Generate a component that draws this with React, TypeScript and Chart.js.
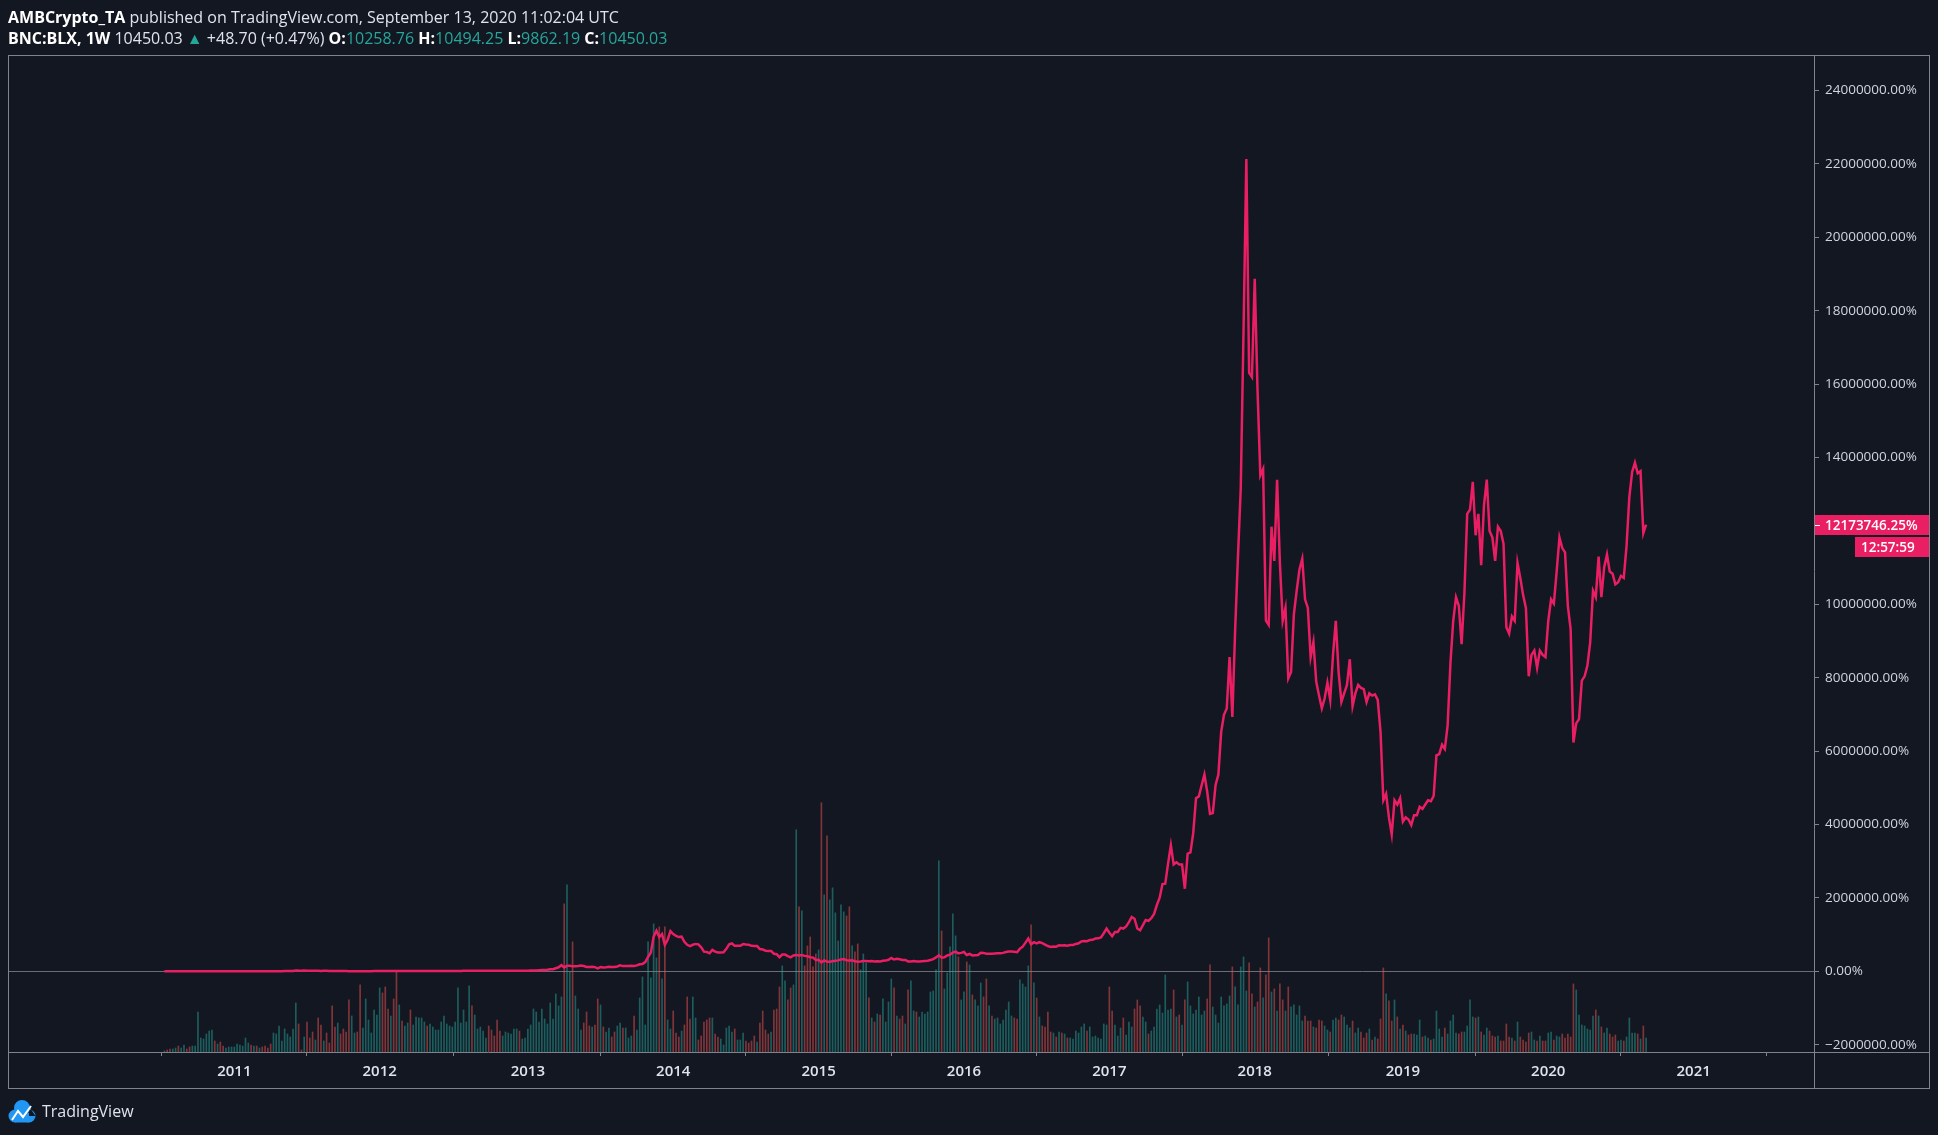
import React, { useEffect, useRef } from 'react';
import { Chart, registerables } from 'chart.js';

Chart.register(...registerables);

// ---- Weekly closes (USD) of BNC:BLX, one value per week, first bar = week of 12 Jul 2010 ----
const close2010 = [0.08584, 0.07, 0.06, 0.07, 0.07, 0.065, 0.065, 0.065, 0.063, 0.062, 0.062, 0.062, 0.07, 0.1, 0.1, 0.19, 0.24, 0.28, 0.25, 0.28, 0.21, 0.2, 0.23, 0.25, 0.3];
const close2011 = [0.32, 0.4, 0.41, 0.44, 0.72, 0.92, 0.9, 0.92, 0.89, 0.9, 0.87, 0.8, 0.78, 0.74, 0.87, 1.14, 1.62, 3.4, 5.8, 7.2, 7.3, 9, 18.5, 15.5, 15, 16.5, 14.8, 14.3, 13.8, 13.9, 10.8, 8.3, 11.1, 10, 8.2, 6.9, 5.4, 5.4, 5.1, 4.8, 4, 3.2, 3.2, 3.2, 3, 2.3, 2.5, 2.8, 3, 3.2, 3.9, 4.7];
const close2012 = [7, 6.8, 6.4, 5.6, 5.9, 5.7, 4.4, 5, 4.9, 4.9, 5.3, 4.7, 4.9, 4.9, 4.9, 5.1, 5.1, 5, 5, 5.1, 5.1, 5.2, 5.5, 6.1, 6.6, 6.7, 6.8, 7.5, 8.6, 8.8, 10.5, 11.5, 11.8, 10.3, 10.4, 10.6, 11.5, 12.2, 12.4, 12.1, 11.9, 11.8, 10.9, 10.6, 10.9, 11.4, 12.3, 12.5, 13.4, 13.4, 13.3, 13.5];
const close2013 = [13.5, 14.2, 15.6, 17.8, 20.5, 23.7, 27, 30, 34.5, 46, 47, 71, 93, 143, 90, 127, 128, 115, 117, 123, 133, 122, 100, 99, 108, 97, 70, 97, 90, 96, 105, 102, 100, 112, 138, 121, 125, 126, 131, 122, 137, 164, 172, 214, 334, 440, 810, 950, 800, 870, 620, 740];
const close2014 = [940, 870, 830, 800, 810, 690, 620, 590, 620, 640, 630, 560, 460, 450, 420, 500, 460, 440, 440, 445, 525, 630, 650, 595, 595, 595, 635, 625, 620, 595, 590, 590, 520, 510, 480, 475, 475, 410, 400, 330, 390, 390, 355, 325, 370, 380, 370, 380, 360, 350, 330, 320];
const close2015 = [265, 270, 210, 255, 225, 225, 235, 245, 255, 275, 285, 260, 250, 255, 235, 225, 230, 240, 240, 237, 240, 230, 235, 230, 245, 250, 270, 310, 275, 290, 280, 265, 265, 230, 230, 240, 230, 230, 235, 240, 245, 265, 285, 325, 375, 320, 325, 370, 390, 435, 460, 420];
const close2016 = [430, 450, 380, 405, 370, 375, 380, 435, 430, 412, 412, 410, 416, 420, 422, 430, 450, 460, 460, 455, 445, 530, 575, 670, 765, 630, 680, 650, 680, 660, 625, 590, 570, 580, 575, 610, 605, 610, 600, 615, 617, 640, 655, 700, 710, 705, 730, 735, 765, 770, 790, 890, 1000];
const close2017 = [900, 820, 920, 920, 1015, 1000, 1050, 1150, 1270, 1230, 1000, 960, 1080, 1200, 1180, 1240, 1340, 1550, 1720, 2040, 2050, 2520, 2950, 2500, 2550, 2500, 2500, 1930, 2750, 2780, 3230, 4050, 4090, 4350, 4600, 4200, 3680, 3700, 4360, 4600, 5600, 6000, 6150, 7350, 5950, 8000, 9700, 11300, 15000, 19000, 14000, 13900];
const close2018 = [16200, 13600, 11600, 11750, 8200, 8100, 10400, 9600, 11500, 9550, 8200, 8500, 6850, 7000, 8350, 8900, 9400, 9650, 8700, 8500, 7350, 7700, 6770, 6450, 6150, 6380, 6750, 6350, 7400, 8200, 7000, 6300, 6500, 6700, 7300, 6200, 6500, 6700, 6630, 6600, 6300, 6500, 6450, 6480, 6350, 5600, 4000, 4150, 3600, 3200, 4000, 3900, 4050];
const close2019 = [3500, 3600, 3550, 3420, 3650, 3650, 3850, 3800, 3900, 4000, 3980, 4100, 5050, 5080, 5300, 5200, 5750, 7200, 8200, 8750, 8550, 7650, 8850, 10700, 10800, 11450, 10200, 10700, 9500, 10900, 11500, 10300, 10150, 9600, 10400, 10300, 10000, 8050, 7900, 8300, 8200, 9550, 9200, 8800, 8500, 6900, 7400, 7500, 7100, 7500, 7400, 7350];
const close2020 = [8200, 8700, 8600, 9350, 10150, 9900, 9800, 8550, 8000, 5350, 5800, 5900, 6800, 6900, 7150, 7700, 8900, 8750, 9700, 8750, 9450, 9750, 9350, 9300, 9050, 9100, 9250, 9200, 9950, 11100, 11680, 11900, 11650, 11700, 10250, 10450.03];

// ---- Weekly volume (relative units) ----
const vol2010 = [1, 2, 3, 3, 4, 6, 4, 7, 3, 5, 6, 6, 40, 14, 13, 18, 21, 22, 11, 8, 10, 6, 4, 5, 5];
const vol2011 = [5, 8, 7, 6, 14, 9, 7, 6, 6, 4, 5, 6, 4, 8, 19, 18, 26, 11, 23, 18, 15, 23, 49, 28, 2, 15, 30, 14, 20, 12, 34, 27, 11, 19, 9, 46, 25, 29, 18, 23, 20, 52, 36, 19, 20, 67, 24, 53, 32, 19, 42, 37];
const vol2012 = [64, 59, 65, 43, 36, 53, 80, 47, 31, 26, 29, 42, 27, 35, 34, 34, 30, 26, 28, 25, 22, 22, 30, 36, 28, 26, 25, 30, 64, 29, 42, 30, 66, 46, 37, 23, 25, 21, 14, 26, 22, 16, 32, 21, 16, 20, 19, 18, 23, 23, 21, 13];
const vol2013 = [14, 23, 27, 43, 40, 30, 43, 33, 28, 49, 33, 58, 46, 55, 148, 167, 80, 110, 56, 43, 22, 29, 40, 26, 25, 27, 53, 47, 25, 20, 24, 15, 20, 26, 29, 24, 24, 14, 16, 36, 22, 54, 75, 27, 110, 74, 128, 94, 125, 73, 125, 32];
const vol2014 = [23, 41, 19, 15, 21, 27, 55, 33, 55, 34, 12, 16, 30, 32, 34, 34, 18, 15, 13, 7, 24, 26, 20, 23, 12, 12, 19, 11, 9, 11, 16, 10, 29, 41, 22, 18, 20, 42, 43, 65, 86, 71, 52, 64, 67, 222, 145, 141, 86, 106, 115, 85];
const vol2015 = [98, 102, 249, 157, 216, 152, 164, 139, 111, 147, 140, 136, 145, 106, 100, 108, 82, 98, 89, 54, 34, 30, 38, 37, 53, 30, 50, 73, 64, 36, 33, 36, 28, 62, 71, 41, 40, 35, 40, 38, 40, 60, 61, 82, 191, 121, 63, 79, 105, 138, 116, 95];
const vol2016 = [52, 60, 90, 87, 57, 52, 46, 69, 55, 73, 46, 36, 33, 34, 28, 32, 42, 50, 36, 34, 33, 72, 68, 65, 86, 127, 69, 54, 35, 26, 25, 40, 20, 19, 15, 20, 19, 18, 14, 14, 13, 21, 19, 25, 28, 21, 25, 15, 16, 14, 13, 28, 27];
const vol2017 = [65, 41, 27, 16, 24, 34, 17, 30, 25, 43, 52, 46, 35, 30, 18, 21, 25, 43, 47, 39, 77, 42, 43, 62, 35, 37, 27, 52, 70, 46, 38, 42, 55, 37, 41, 53, 87, 45, 37, 29, 55, 46, 48, 56, 85, 65, 47, 85, 95, 61, 89, 58];
const vol2018 = [45, 50, 84, 54, 77, 114, 60, 63, 41, 68, 52, 41, 65, 45, 47, 37, 46, 31, 36, 31, 31, 25, 24, 32, 31, 26, 22, 20, 32, 34, 32, 37, 35, 27, 24, 31, 19, 24, 20, 14, 19, 23, 12, 15, 13, 33, 84, 58, 51, 31, 52, 35, 23];
const vol2019 = [27, 21, 17, 18, 18, 17, 32, 15, 16, 14, 12, 13, 41, 23, 15, 24, 18, 31, 37, 19, 18, 20, 20, 26, 52, 35, 34, 35, 20, 17, 24, 21, 16, 15, 16, 11, 11, 28, 15, 14, 11, 30, 15, 12, 10, 19, 20, 12, 11, 16, 11, 11];
const vol2020 = [19, 20, 12, 16, 15, 18, 14, 18, 15, 68, 62, 37, 27, 26, 23, 22, 36, 42, 36, 25, 19, 24, 18, 15, 17, 11, 12, 11, 15, 34, 19, 19, 18, 13, 26, 14];

// ---- Axis ticks ----
const yearTickWeeks = [25, 77, 130, 182, 234, 286, 338, 390, 443, 495, 547];
const yearTickLabels = ['2011', '2012', '2013', '2014', '2015', '2016', '2017', '2018', '2019', '2020', '2021'];
const priceTickValues = [-2000000, 0, 2000000, 4000000, 6000000, 8000000, 10000000, 12000000, 14000000, 16000000, 18000000, 20000000, 22000000, 24000000];

// ---- Texts ----
const headerLine1 = [
  { t: 'AMBCrypto_TA', bold: true, c: '#ffffff' },
  { t: ' published on TradingView.com, September 13, 2020 11:02:04 UTC', bold: false, c: '#e0e3eb' },
];
const headerLine2 = [
  { t: 'BNC:BLX, 1W', bold: true, c: '#ffffff' },
  { t: ' 10450.03 ', bold: false, c: '#e0e3eb' },
  { t: '\u25B2', bold: false, c: '#26a69a' },
  { t: ' +48.70 (+0.47%) ', bold: false, c: '#e0e3eb' },
  { t: 'O:', bold: true, c: '#ffffff' },
  { t: '10258.76', bold: false, c: '#26a69a' },
  { t: ' H:', bold: true, c: '#ffffff' },
  { t: '10494.25', bold: false, c: '#26a69a' },
  { t: ' L:', bold: true, c: '#ffffff' },
  { t: '9862.19', bold: false, c: '#26a69a' },
  { t: ' C:', bold: true, c: '#ffffff' },
  { t: '10450.03', bold: false, c: '#26a69a' },
];
const lastValueLabel = '12173746.25%';
const countdownLabel = '12:57:59';
const brandLabel = 'TradingView';

// ---- Styling constants ----
const W = 1938;
const H = 1135;
const BG = '#131722';
const FRAME = '#80838d';
const ZERO = '#6a6d77';
const AXIS_TEXT = '#d1d4dc';
const PINK = '#e91e63';
const FONT = "'Open Sans', 'Noto Sans', sans-serif";
const X_MIN = -55.95;
const X_MAX = 590.05;
const Y_MIN = -2200000;
const Y_MAX = 24970000;

const closes = [
  ...close2010, ...close2011, ...close2012, ...close2013, ...close2014, ...close2015,
  ...close2016, ...close2017, ...close2018, ...close2019, ...close2020,
];
const volumes = [
  ...vol2010, ...vol2011, ...vol2012, ...vol2013, ...vol2014, ...vol2015,
  ...vol2016, ...vol2017, ...vol2018, ...vol2019, ...vol2020,
];
const base = closes[0];
const pctPoints = closes.map((c, i) => ({ x: i, y: (c / base - 1) * 100 }));
const volPoints = volumes.map((v, i) => ({ x: i, y: v }));
const volColors = closes.map((c, i) =>
  i === 0 || c >= closes[i - 1] ? 'rgba(38,166,154,0.5)' : 'rgba(239,83,80,0.5)'
);
const VOL_MAX = Math.max(...volumes) * 4;

const fmtPct = (v: number) => (v < 0 ? '\u2212' : '') + Math.abs(v).toFixed(2) + '%';

function drawSegments(ctx: CanvasRenderingContext2D, segs: { t: string; bold: boolean; c: string }[], x: number, y: number, size: number) {
  let cx = x;
  for (const s of segs) {
    ctx.font = `${s.bold ? '700' : '400'} ${size}px ${FONT}`;
    ctx.fillStyle = s.c;
    ctx.fillText(s.t, cx, y);
    cx += ctx.measureText(s.t).width;
  }
}

const decor = {
  id: 'tvDecor',
  beforeDraw(chart: any) {
    const { ctx, width, height } = chart;
    ctx.save();
    ctx.fillStyle = BG;
    ctx.fillRect(0, 0, width, height);
    ctx.restore();
  },
  beforeDatasetsDraw(chart: any) {
    const { ctx, chartArea: a, scales } = chart;
    const y0 = Math.round(scales.y.getPixelForValue(0)) + 0.5;
    ctx.save();
    ctx.strokeStyle = ZERO;
    ctx.lineWidth = 1;
    ctx.beginPath();
    ctx.moveTo(a.left, y0);
    ctx.lineTo(a.right, y0);
    ctx.stroke();
    ctx.restore();
  },
  afterDraw(chart: any) {
    const { ctx, chartArea: a, scales } = chart;
    ctx.save();
    // frame
    ctx.strokeStyle = FRAME;
    ctx.lineWidth = 1;
    const outerR = a.right + 116;
    const outerB = a.bottom + 36;
    ctx.strokeRect(a.left + 0.5, a.top + 0.5, outerR - a.left - 1, outerB - a.top);
    ctx.beginPath();
    ctx.moveTo(a.left, a.bottom + 0.5);
    ctx.lineTo(outerR, a.bottom + 0.5);
    ctx.moveTo(a.right + 0.5, a.top);
    ctx.lineTo(a.right + 0.5, outerB);
    ctx.stroke();

    // header
    ctx.textBaseline = 'middle';
    ctx.textAlign = 'left';
    drawSegments(ctx, headerLine1, 8, 18.5, 16);
    drawSegments(ctx, headerLine2, 8, 39.5, 16);

    // last value labels
    const last = pctPoints[pctPoints.length - 1].y;
    const yl = Math.round(scales.y.getPixelForValue(last));
    ctx.fillStyle = PINK;
    ctx.fillRect(a.right + 1, yl - 10, outerR - a.right - 2, 20);
    ctx.fillRect(1855, yl + 12, outerR - 1855 - 1, 20);
    ctx.strokeStyle = '#ffffff';
    ctx.beginPath();
    ctx.moveTo(a.right + 1, yl + 0.5);
    ctx.lineTo(a.right + 6, yl + 0.5);
    ctx.stroke();
    ctx.fillStyle = '#ffffff';
    ctx.font = `600 13.5px ${FONT}`;
    ctx.fillText(lastValueLabel, a.right + 11, yl + 1);
    ctx.fillText(countdownLabel, 1861, yl + 23);

    // TradingView logo
    const lx = 8;
    const ly = 1112;
    ctx.fillStyle = '#2196f3';
    ctx.beginPath();
    ctx.arc(lx + 14, ly - 4, 8, 0, Math.PI * 2);
    ctx.arc(lx + 7, ly + 4, 6.5, 0, Math.PI * 2);
    ctx.arc(lx + 21, ly + 4, 6.5, 0, Math.PI * 2);
    ctx.fill();
    ctx.fillRect(lx + 7, ly + 1, 14, 9.5);
    ctx.strokeStyle = '#ffffff';
    ctx.lineWidth = 2;
    ctx.beginPath();
    ctx.moveTo(lx + 4, ly + 8);
    ctx.lineTo(lx + 10, ly - 1);
    ctx.lineTo(lx + 15, ly + 5);
    ctx.lineTo(lx + 23, ly - 6);
    ctx.stroke();
    ctx.fillStyle = '#e0e3eb';
    ctx.font = `400 16px ${FONT}`;
    ctx.fillText(brandLabel, lx + 34, ly);
    ctx.restore();
  },
};

export default function App() {
  const ref = useRef<HTMLCanvasElement | null>(null);

  useEffect(() => {
    document.documentElement.style.overflow = 'hidden';
    document.body.style.margin = '0';
    document.body.style.background = BG;
    const canvas = ref.current;
    if (!canvas) return;
    const chart = new Chart(canvas, {
      type: 'line',
      data: {
        datasets: [
          {
            type: 'line',
            data: pctPoints,
            xAxisID: 'x',
            yAxisID: 'y',
            borderColor: PINK,
            borderWidth: 2.5,
            pointRadius: 0,
            tension: 0,
            fill: false,
            order: 0,
          } as any,
          {
            type: 'bar',
            data: volPoints,
            xAxisID: 'x',
            yAxisID: 'yv',
            backgroundColor: volColors,
            borderWidth: 0,
            barThickness: 1,
            order: 1,
          } as any,
        ],
      },
      options: {
        animation: false,
        responsive: false,
        maintainAspectRatio: false,
        devicePixelRatio: 1,
        events: [],
        layout: { padding: { left: 8, right: 8, top: 55, bottom: 47 } },
        plugins: { legend: { display: false }, tooltip: { enabled: false }, title: { display: false } },
        scales: {
          x: {
            type: 'linear',
            min: X_MIN,
            max: X_MAX,
            offset: false,
            afterBuildTicks: (s: any) => {
              s.ticks = yearTickWeeks.map((v) => ({ value: v }));
            },
            afterFit: (s: any) => {
              s.height = 36;
            },
            grid: { display: true, drawOnChartArea: false, drawTicks: true, tickLength: 4, color: FRAME },
            border: { display: false },
            ticks: {
              color: '#e0e3eb',
              font: { family: FONT, size: 15, weight: '600' },
              padding: 7,
              maxRotation: 0,
              autoSkip: false,
              callback: (_v: any, i: number) => yearTickLabels[i],
            },
          },
          y: {
            type: 'linear',
            position: 'right',
            min: Y_MIN,
            max: Y_MAX,
            afterBuildTicks: (s: any) => {
              s.ticks = priceTickValues.map((v) => ({ value: v }));
            },
            afterFit: (s: any) => {
              s.width = 116;
            },
            grid: { display: true, drawOnChartArea: false, drawTicks: true, tickLength: 5, color: FRAME },
            border: { display: false },
            ticks: {
              color: AXIS_TEXT,
              font: { family: FONT, size: 13.5 },
              padding: 6,
              callback: (v: any) => fmtPct(Number(v)),
            },
          },
          yv: {
            type: 'linear',
            display: false,
            min: 0,
            max: VOL_MAX,
          },
        },
      } as any,
      plugins: [decor as any],
    });
    return () => chart.destroy();
  }, []);

  return <canvas ref={ref} width={W} height={H} style={{ display: 'block', width: W, height: H }} />;
}
